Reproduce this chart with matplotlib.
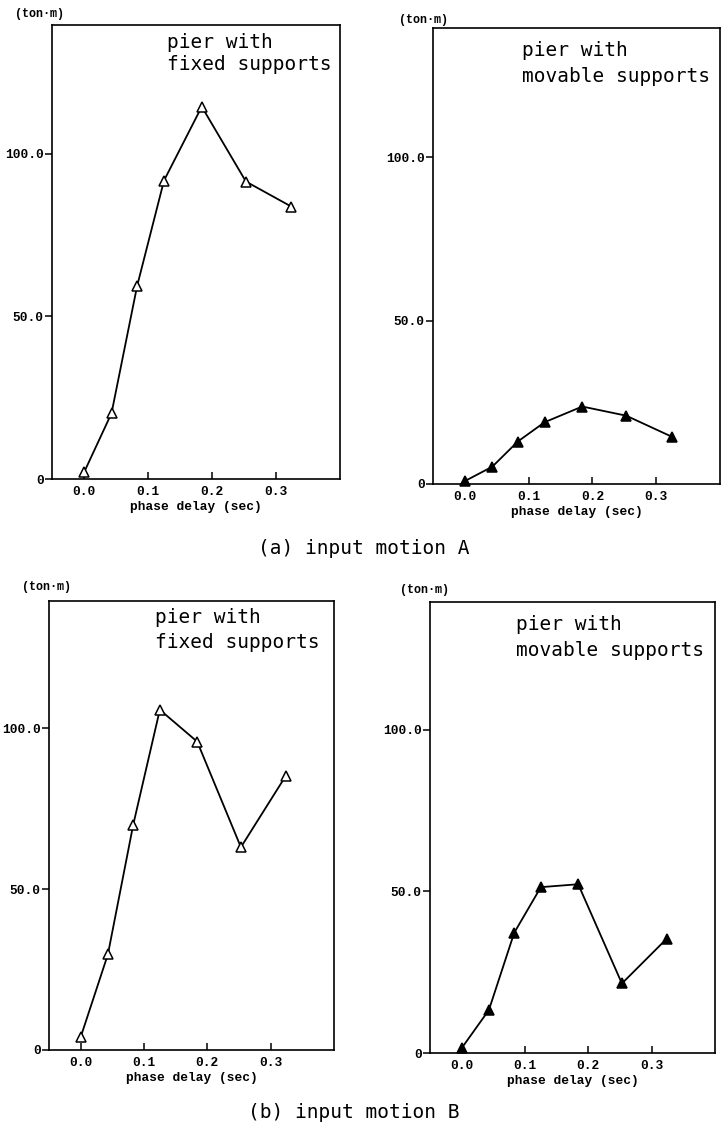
import matplotlib
matplotlib.use("Agg")
import matplotlib.pyplot as plt

# ---- data ----
phase_delay = [0.0, 0.043, 0.083, 0.125, 0.184, 0.253, 0.324]
moment_A_fixed = [2.0, 20.2, 59.3, 91.7, 114.4, 91.4, 83.7]
moment_A_movable = [0.9, 5.3, 13.0, 18.9, 23.7, 20.9, 14.5]
moment_B_fixed = [4.0, 29.7, 70.0, 105.7, 95.8, 63.0, 85.2]
moment_B_movable = [1.5, 13.3, 37.2, 51.3, 52.2, 21.5, 35.4]

x_ticks = [0.0, 0.1, 0.2, 0.3]
x_tick_labels = ["0.0", "0.1", "0.2", "0.3"]
y_ticks = [0, 50, 100]
y_tick_labels = ["0", "50.0", "100.0"]
unit_label = "(ton\u00b7m)"
x_label = "phase delay (sec)"
titles_fixed = ["pier with", "fixed supports"]
titles_movable = ["pier with", "movable supports"]
captions = ["(a) input motion A", "(b) input motion B"]

W, H = 725, 1135
fig = plt.figure(figsize=(W / 100, H / 100), dpi=100)
fig.patch.set_facecolor("white")

TICKFONT = dict(family="Liberation Mono", weight="bold", size=9.3)
TITLEFONT = dict(family="DejaVu Sans Mono", size=14)


def px_axes(left, top, right, bottom):
    return fig.add_axes([left / W, 1 - bottom / H, (right - left) / W, (bottom - top) / H])


def fx(x):
    return x / W


def fy(y):
    return 1 - y / H


panels = [
    # (left, top, right, bottom), values, filled, title lines, title x, title y1, y2, unit pos
    ((52, 25, 340, 479), moment_A_fixed, False, titles_fixed, 167, 42, 65, (15, 14)),
    ((433, 28, 720, 484), moment_A_movable, True, titles_movable, 522, 51, 76, (399, 20)),
    ((49, 601, 334, 1050), moment_B_fixed, False, titles_fixed, 155, 618, 642, (22, 587)),
    ((430, 602, 715, 1053), moment_B_movable, True, titles_movable, 516, 625, 650, (400, 590)),
]

for box, vals, filled, tl, tx, ty1, ty2, upos in panels:
    ax = px_axes(*box)
    ax.plot(phase_delay, vals, color="black", lw=1.3,
            marker="^", markersize=7.5 if filled else 7,
            markerfacecolor="black" if filled else "white",
            markeredgecolor="black", markeredgewidth=1.1, clip_on=False, zorder=3)
    ax.set_xlim(-0.05, 0.40)
    ax.set_ylim(0, 139.5)
    ax.set_xticks(x_ticks)
    ax.set_xticklabels(x_tick_labels, **TICKFONT)
    ax.set_yticks(y_ticks)
    ax.set_yticklabels(y_tick_labels, **TICKFONT)
    ax.tick_params(axis="x", direction="in", length=5, width=1.1, pad=5)
    ax.tick_params(axis="y", direction="out", length=5, width=1.1, pad=1)
    ax.set_xlabel(x_label, labelpad=2, **TICKFONT)
    for s in ax.spines.values():
        s.set_linewidth(1.2)
    fig.text(fx(tx), fy(ty1), tl[0], ha="left", va="center", **TITLEFONT)
    fig.text(fx(tx), fy(ty2), tl[1], ha="left", va="center", **TITLEFONT)
    fig.text(fx(upos[0]), fy(upos[1]), unit_label, ha="left", va="center",
             family="Liberation Mono", weight="bold", size=8.5)

fig.text(fx(364), fy(548), captions[0], ha="center", va="center", **TITLEFONT)
fig.text(fx(354), fy(1112), captions[1], ha="center", va="center", **TITLEFONT)

fig.savefig("out.png", dpi=100, facecolor="white")
